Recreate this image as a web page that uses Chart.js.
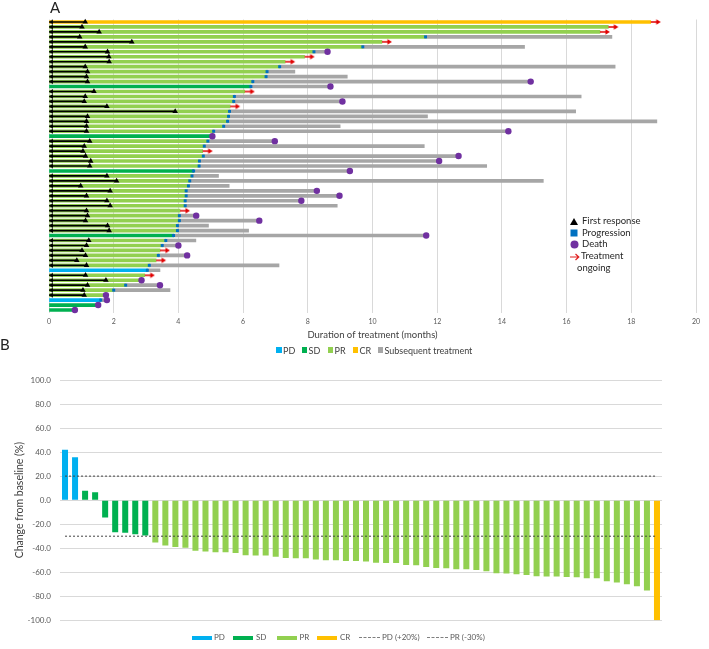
<!DOCTYPE html>
<html>
<head>
<meta charset="utf-8">
<script src="https://cdn.jsdelivr.net/npm/chart.js@4.4.1/dist/chart.umd.min.js"></script>
<style>
  body { margin: 0; background: #fff; font-family: Lato, "Open Sans", sans-serif; }
  #wrap { position: relative; width: 709px; height: 649px; overflow: hidden; }
  canvas { position: absolute; left: 0; }
  #chartA { top: 0; }
  #chartB { top: 340px; }
  .panel { position: absolute; font-size: 15px; color: #222; line-height: 1; }
  .leg { position: absolute; white-space: nowrap; color: #404040; line-height: 1; }
  .leg span.box { position: absolute; }
  .legA { font-size: 9px; }
  .legB { font-size: 8px; color: #595959; }
  .legM { font-size: 9.5px; color: #262626; }
</style>
</head>
<body>
<div id="wrap">
  <canvas id="chartA" width="709" height="345"></canvas>
  <canvas id="chartB" width="709" height="309"></canvas>
  <div class="panel" style="left:50px; top:0px;">A</div>
  <div class="panel" style="left:0px; top:337px;">B</div>

  <!-- marker legend, panel A -->
  <div class="leg legM" style="left:569px; top:216px;">
    <svg style="position:absolute; left:1px; top:2px" width="8" height="7"><polygon points="4,0 8,7 0,7" fill="#000"/></svg>
    <span style="position:absolute; left:13px; top:0">First response</span>
  </div>
  <div class="leg legM" style="left:569px; top:227.5px;">
    <svg style="position:absolute; left:1px; top:1px" width="8" height="8"><rect x="0.5" y="0.5" width="7" height="7" fill="#0070c0"/></svg>
    <span style="position:absolute; left:13px; top:0">Progression</span>
  </div>
  <div class="leg legM" style="left:569px; top:239px;">
    <svg style="position:absolute; left:1px; top:1px" width="9" height="9"><circle cx="4.5" cy="4.5" r="4" fill="#7030a0"/></svg>
    <span style="position:absolute; left:13px; top:0">Death</span>
  </div>
  <div class="leg legM" style="left:569px; top:250.5px;">
    <svg style="position:absolute; left:1px; top:2px" width="10" height="8"><path d="M0,4 L8.5,4 M5.5,1 L8.8,4 L5.5,7" stroke="#e02020" stroke-width="1.2" fill="none"/></svg>
    <span style="position:absolute; left:12px; top:0">Treatment</span>
    <span style="position:absolute; left:8px; top:12px">ongoing</span>
  </div>

  <!-- response legend, panel A -->
  <div class="leg legA" style="left:276px; top:345.5px;">
    <span class="box" style="left:0; top:1.5px; width:5.5px; height:5.5px; background:#00b0f0"></span>
    <span style="position:absolute; left:7px; top:0">PD</span>
    <span class="box" style="left:25.5px; top:1.5px; width:5.5px; height:5.5px; background:#00b050"></span>
    <span style="position:absolute; left:32.5px; top:0">SD</span>
    <span class="box" style="left:51.5px; top:1.5px; width:5.5px; height:5.5px; background:#92d050"></span>
    <span style="position:absolute; left:58.5px; top:0">PR</span>
    <span class="box" style="left:76.5px; top:1.5px; width:5.5px; height:5.5px; background:#ffc000"></span>
    <span style="position:absolute; left:83.5px; top:0">CR</span>
    <span class="box" style="left:101.5px; top:1.5px; width:5.5px; height:5.5px; background:#a6a6a6"></span>
    <span style="position:absolute; left:108.5px; top:0">Subsequent treatment</span>
  </div>

  <!-- legend, panel B -->
  <div class="leg legB" style="left:0; top:632.5px;">
    <span class="box" style="left:192px; top:3px; width:20px; height:4px; background:#00b0f0"></span>
    <span style="position:absolute; left:214px; top:0">PD</span>
    <span class="box" style="left:233px; top:3px; width:20px; height:4px; background:#00b050"></span>
    <span style="position:absolute; left:256px; top:0">SD</span>
    <span class="box" style="left:277px; top:3px; width:20px; height:4px; background:#92d050"></span>
    <span style="position:absolute; left:299.5px; top:0">PR</span>
    <span class="box" style="left:317px; top:3px; width:20px; height:4px; background:#ffc000"></span>
    <span style="position:absolute; left:340px; top:0">CR</span>
    <span class="box" style="left:359px; top:4.5px; width:21px; height:0; border-top:1px dashed #7f7f7f"></span>
    <span style="position:absolute; left:382px; top:0">PD (+20%)</span>
    <span class="box" style="left:427px; top:4.5px; width:21px; height:0; border-top:1px dashed #7f7f7f"></span>
    <span style="position:absolute; left:450px; top:0">PR (-30%)</span>
  </div>
</div>

<script>
// ---- panel A: swimmer plot, one row per patient (top to bottom) ----
const responseA = ['CR','PR','PR','PR','PR','PR','PR','PR','PR','PR',
                   'PR','PR','PR','SD','PR','PR','PR','PR','PR','PR',
                   'PR','PR','PR','SD','PR','PR','PR','PR','PR','PR',
                   'SD','PR','PR','PR','PR','PR','PR','PR','PR','PR',
                   'PR','PR','PR','SD','PR','PR','PR','PR','PR','PR',
                   'PD','PR','PR','PR','PR','PR','PD','SD','SD'];
const firstResponse = [1.12, 1.02, 1.55, 0.95, 2.56, 1.12, 1.81, 1.85, 1.86, 1.12,
                       1.19, 1.16, 1.19, null, 1.39, 1.12, 1.09, 1.79, 3.90, 1.19,
                       1.16, 1.16, 1.16, null, 1.26, 1.09, 1.05, 1.13, 1.29, 1.26,
                       null, 1.79, 2.09, 0.98, 1.89, 1.16, 1.79, 1.89, 1.16, 1.19,
                       1.13, 1.81, 1.86, null, 1.23, 1.16, 1.02, 1.13, 0.86, 1.16,
                       null, 1.13, 1.76, 1.19, 1.05, 1.09, null, null, null];
const treatmentEnd = [18.60, 17.29, 17.03, 11.64, 10.29, 9.70, 8.19, 7.90, 7.30, 7.13,
                      6.74, 6.71, 6.30, 6.24, 6.05, 5.73, 5.71, 5.60, 5.58, 5.55,
                      5.52, 5.40, 5.09, 5.05, 4.91, 4.80, 4.75, 4.77, 4.65, 4.64,
                      4.47, 4.42, 4.35, 4.31, 4.24, 4.24, 4.21, 4.21, 4.05, 4.03,
                      4.03, 3.97, 3.97, 3.85, 3.61, 3.50, 3.43, 3.38, 3.31, 3.10,
                      3.04, 2.96, 2.86, 2.37, 2.00, 1.76, 1.60, 1.52, 0.80];
// end of subsequent treatment (null = no progression)
const subsequentEnd = [null, null, null, 17.40, null, 14.70, 8.61, null, null, 17.50,
                       7.60, 9.22, 14.89, 8.70, null, 16.45, 9.07, null, 16.28, 11.70,
                       18.79, 9.00, 14.20, null, 6.98, 11.60, null, 12.66, 12.06, 13.53,
                       9.30, 5.24, 15.28, 5.57, 8.28, 8.98, 7.80, 8.91, null, 4.55,
                       6.50, 4.93, 6.17, 11.66, 4.54, 4.00, null, 4.27, null, 7.11,
                       3.43, null, null, 3.43, 3.74, null, 1.79, null, null];
const death = [null, null, null, null, null, null, 8.61, null, null, null,
               null, null, 14.89, 8.70, null, null, 9.07, null, null, null,
               null, null, 14.20, 5.05, 6.98, null, null, 12.66, 12.06, null,
               9.30, null, null, null, 8.28, 8.98, 7.80, null, null, 4.55,
               6.50, null, null, 11.66, null, 4.00, null, 4.27, null, null,
               null, null, 2.86, 3.43, null, 1.76, 1.79, 1.52, 0.80];
const ongoing = [1, 1, 1, 0, 1, 0, 0, 1, 1, 0,
                 0, 0, 0, 0, 1, 0, 0, 1, 0, 0,
                 0, 0, 0, 0, 0, 0, 1, 0, 0, 0,
                 0, 0, 0, 0, 0, 0, 0, 0, 1, 0,
                 0, 0, 0, 0, 0, 0, 1, 0, 1, 0,
                 0, 1, 0, 0, 0, 0, 0, 0, 0];
const monthTicks = [0, 2, 4, 6, 8, 10, 12, 14, 16, 18, 20];

// ---- panel B: waterfall, best change from baseline ----
const responseB = ['PD','PD','SD','SD','SD','SD','SD','SD','SD','PR',
                   'PR','PR','PR','PR','PR','PR','PR','PR','PR','PR',
                   'PR','PR','PR','PR','PR','PR','PR','PR','PR','PR',
                   'PR','PR','PR','PR','PR','PR','PR','PR','PR','PR',
                   'PR','PR','PR','PR','PR','PR','PR','PR','PR','PR',
                   'PR','PR','PR','PR','PR','PR','PR','PR','PR','CR'];
const bestChange = [41.9, 35.8, 7.8, 6.6, -14.5, -26.7, -27.2, -28.3, -29.4, -35.3,
                    -37.8, -38.9, -39.7, -42.2, -42.8, -43.3, -43.3, -43.9, -45.8, -46.1,
                    -46.1, -47.2, -48.1, -48.3, -48.3, -49.4, -50.0, -50.0, -50.6, -50.7,
                    -51.1, -52.0, -52.3, -52.3, -53.9, -54.2, -55.6, -56.4, -56.7, -57.5,
                    -57.5, -58.1, -59.2, -60.9, -61.1, -61.7, -62.2, -63.3, -63.6, -63.6,
                    -63.9, -64.2, -65.0, -65.0, -67.5, -68.6, -70.0, -71.7, -75.3, -100.0];
const thresholdPD = 20;
const thresholdPR = -30;

const colors = { PD: '#00b0f0', SD: '#00b050', PR: '#92d050', CR: '#ffc000' };
Chart.defaults.font.family = 'Lato';
Chart.defaults.animation = false;

const rows = responseA.map((r, i) => 'P' + (i + 1));
const pts = (vals) => {
  const out = [];
  vals.forEach((v, i) => { if (v !== null) out.push({ x: v, y: rows[i] }); });
  return out;
};

// little canvases used as point styles: tip of the arrow sits at the point
const redArrow = document.createElement('canvas');
redArrow.width = 22; redArrow.height = 8;
let g = redArrow.getContext('2d');
g.strokeStyle = '#e00000'; g.fillStyle = '#e00000'; g.lineWidth = 1.5;
g.beginPath(); g.moveTo(11, 4); g.lineTo(18, 4); g.stroke();
g.beginPath(); g.moveTo(21, 4); g.lineTo(16.5, 1.3); g.lineTo(16.5, 6.7); g.closePath(); g.fill();

const leftHead = document.createElement('canvas');
leftHead.width = 12; leftHead.height = 7;
g = leftHead.getContext('2d');
g.fillStyle = '#000';
g.beginPath(); g.moveTo(6, 3.5); g.lineTo(10, 1); g.lineTo(10, 6); g.closePath(); g.fill();

new Chart(document.getElementById('chartA'), {
  type: 'bar',
  data: {
    labels: rows,
    datasets: [
      { type: 'scatter', data: pts(death), pointStyle: 'circle', pointRadius: 3.2,
        backgroundColor: '#7030a0', borderWidth: 0, clip: false },
      { type: 'scatter', data: pts(treatmentEnd.map((v, i) => subsequentEnd[i] !== null ? v : null)),
        pointStyle: 'rect', pointRadius: 2.1, backgroundColor: '#0070c0', borderWidth: 0, clip: false },
      { type: 'scatter', data: pts(treatmentEnd.map((v, i) => ongoing[i] ? v : null)),
        pointStyle: redArrow, clip: false },
      { type: 'scatter', data: pts(firstResponse), pointStyle: 'triangle', pointRadius: 3.2,
        backgroundColor: '#000', borderWidth: 0, clip: false },
      { type: 'scatter', data: pts(firstResponse.map(v => v === null ? null : 0)),
        pointStyle: leftHead, clip: false },
      { data: firstResponse.map(v => v === null ? null : [0, v]),
        backgroundColor: '#000', barThickness: 1, grouped: false },
      { data: treatmentEnd.map(v => [0, v]),
        backgroundColor: responseA.map(r => colors[r]), barThickness: 3, grouped: false },
      { data: subsequentEnd.map((v, i) => v === null ? null : [treatmentEnd[i], v]),
        backgroundColor: '#a6a6a6', barThickness: 3, grouped: false }
    ]
  },
  options: {
    indexAxis: 'y',
    responsive: false,
    events: [],
    layout: { padding: { left: 49, right: 13, top: 19.5, bottom: 0 } },
    plugins: { legend: { display: false }, tooltip: { enabled: false } },
    scales: {
      x: {
        type: 'linear', position: 'bottom', min: 0, max: 20,
        afterBuildTicks: (s) => { s.ticks = monthTicks.map(v => ({ value: v })); },
        ticks: { color: '#595959', font: { size: 7 }, padding: 5.5 },
        grid: { color: '#d9d9d9', drawTicks: false },
        border: { display: false },
        title: { display: true, text: 'Duration of treatment (months)', color: '#404040',
                 font: { size: 9.5 }, padding: { top: 3, bottom: 4.3 } },
        afterFit: (s) => { s.height = 32.5; }
      },
      y: { type: 'category', display: false, offset: true }
    }
  }
});

new Chart(document.getElementById('chartB'), {
  type: 'bar',
  data: {
    labels: bestChange.map((v, i) => String(i + 1)),
    datasets: [
      { type: 'line', label: 'PD (+20%)', data: bestChange.map(() => thresholdPD),
        borderColor: '#404040', borderWidth: 1, borderDash: [2, 2], pointRadius: 0 },
      { type: 'line', label: 'PR (-30%)', data: bestChange.map(() => thresholdPR),
        borderColor: '#404040', borderWidth: 1, borderDash: [2, 2], pointRadius: 0 },
      ...['PD', 'SD', 'PR', 'CR'].map(cat => ({
        label: cat,
        data: bestChange.map((v, i) => responseB[i] === cat ? v : null),
        backgroundColor: colors[cat],
        grouped: false, categoryPercentage: 1, barPercentage: 0.6
      }))
    ]
  },
  options: {
    responsive: false,
    events: [],
    layout: { padding: { left: 0, right: 47, top: 40, bottom: 28.7 } },
    plugins: { legend: { display: false }, tooltip: { enabled: false } },
    scales: {
      x: { display: false, offset: true },
      y: {
        min: -100, max: 100,
        ticks: { stepSize: 10, color: '#595959', font: { size: 8 }, padding: 9,
                 callback: (v) => v % 20 === 0 ? v.toFixed(1) : '' },
        grid: { color: '#d9d9d9', drawTicks: false },
        border: { display: false },
        title: { display: true, text: 'Change from baseline (%)', color: '#404040',
                 font: { size: 10.5 }, padding: { top: 13, bottom: 0 } },
        afterFit: (s) => { s.width = 60; }
      }
    }
  }
});
</script>
</body>
</html>
